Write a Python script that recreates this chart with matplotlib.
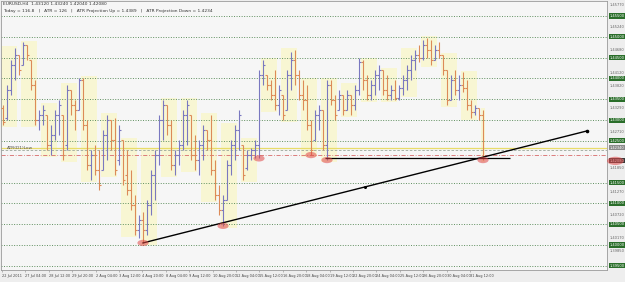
import matplotlib
matplotlib.use("Agg")
import matplotlib.pyplot as plt
import numpy as np
from matplotlib.patches import Ellipse, Rectangle

# H4 bars (open, high, low, close)
opens = [1.4329, 1.4305, 1.4372, 1.4432, 1.4456, 1.4432, 1.4480, 1.4444, 1.4384, 1.4300,
         1.4312, 1.4312, 1.4240, 1.4264, 1.4312, 1.4312, 1.4240, 1.4372, 1.4336, 1.4324,
         1.4396, 1.4288, 1.4192, 1.4216, 1.4180, 1.4180, 1.4264, 1.4300, 1.4252, 1.4204,
         1.4252, 1.4168, 1.4132, 1.4096, 1.4036, 1.4060, 1.4036, 1.4096, 1.4168, 1.4216,
         1.4300, 1.4336, 1.4288, 1.4192, 1.4216, 1.4240, 1.4312, 1.4312, 1.4216, 1.4204,
         1.4240, 1.4276, 1.4252, 1.4180, 1.4120, 1.4084, 1.4108, 1.4192, 1.4240, 1.4276,
         1.4240, 1.4185, 1.4216, 1.4228, 1.4240, 1.4408, 1.4408, 1.4384, 1.4360, 1.4336,
         1.4360, 1.4324, 1.4408, 1.4444, 1.4408, 1.4360, 1.4348, 1.4288, 1.4252, 1.4312,
         1.4324, 1.4240, 1.4384, 1.4348, 1.4324, 1.4360, 1.4324, 1.4360, 1.4336, 1.4372,
         1.4439, 1.4396, 1.4360, 1.4384, 1.4408, 1.4420, 1.4372, 1.4360, 1.4372, 1.4353,
         1.4377, 1.4396, 1.4420, 1.4444, 1.4456, 1.4449, 1.4480, 1.4468, 1.4444, 1.4468,
         1.4456, 1.4420, 1.4348, 1.4396, 1.4372, 1.4384, 1.4377, 1.4336, 1.4319, 1.4329,
         1.4312]
highs = [1.4336, 1.4384, 1.4444, 1.4473, 1.4456, 1.4487, 1.4480, 1.4444, 1.4396, 1.4324,
         1.4336, 1.4312, 1.4288, 1.4324, 1.4348, 1.4312, 1.4384, 1.4372, 1.4348, 1.4401,
         1.4401, 1.4300, 1.4228, 1.4240, 1.4228, 1.4276, 1.4312, 1.4300, 1.4305, 1.4288,
         1.4252, 1.4228, 1.4180, 1.4120, 1.4072, 1.4079, 1.4108, 1.4180, 1.4228, 1.4312,
         1.4348, 1.4336, 1.4300, 1.4228, 1.4252, 1.4324, 1.4348, 1.4312, 1.4264, 1.4252,
         1.4288, 1.4276, 1.4312, 1.4204, 1.4144, 1.4120, 1.4204, 1.4252, 1.4288, 1.4324,
         1.4240, 1.4228, 1.4233, 1.4252, 1.4420, 1.4444, 1.4408, 1.4396, 1.4420, 1.4384,
         1.4360, 1.4420, 1.4463, 1.4468, 1.4420, 1.4396, 1.4384, 1.4300, 1.4324, 1.4336,
         1.4324, 1.4396, 1.4396, 1.4360, 1.4372, 1.4360, 1.4372, 1.4360, 1.4384, 1.4449,
         1.4444, 1.4408, 1.4396, 1.4420, 1.4432, 1.4420, 1.4408, 1.4384, 1.4396, 1.4384,
         1.4408, 1.4432, 1.4456, 1.4468, 1.4480, 1.4492, 1.4497, 1.4492, 1.4480, 1.4487,
         1.4456, 1.4420, 1.4408, 1.4420, 1.4408, 1.4415, 1.4396, 1.4348, 1.4336, 1.4329,
         1.4324]
lows = [1.4288, 1.4300, 1.4360, 1.4396, 1.4408, 1.4432, 1.4444, 1.4372, 1.4288, 1.4276,
        1.4288, 1.4228, 1.4216, 1.4252, 1.4264, 1.4204, 1.4228, 1.4312, 1.4276, 1.4324,
        1.4276, 1.4180, 1.4156, 1.4168, 1.4132, 1.4180, 1.4204, 1.4228, 1.4168, 1.4192,
        1.4144, 1.4120, 1.4084, 1.4024, 1.4017, 1.4005, 1.4024, 1.4072, 1.4108, 1.4192,
        1.4252, 1.4264, 1.4180, 1.4168, 1.4192, 1.4228, 1.4240, 1.4204, 1.4180, 1.4168,
        1.4204, 1.4228, 1.4168, 1.4108, 1.4072, 1.4046, 1.4108, 1.4168, 1.4204, 1.4228,
        1.4156, 1.4180, 1.4204, 1.4208, 1.4208, 1.4384, 1.4372, 1.4348, 1.4324, 1.4312,
        1.4300, 1.4324, 1.4372, 1.4384, 1.4348, 1.4324, 1.4276, 1.4216, 1.4252, 1.4276,
        1.4228, 1.4204, 1.4336, 1.4300, 1.4324, 1.4312, 1.4324, 1.4312, 1.4324, 1.4360,
        1.4372, 1.4348, 1.4348, 1.4360, 1.4372, 1.4360, 1.4348, 1.4348, 1.4348, 1.4348,
        1.4360, 1.4372, 1.4396, 1.4420, 1.4439, 1.4444, 1.4449, 1.4432, 1.4444, 1.4449,
        1.4408, 1.4336, 1.4348, 1.4360, 1.4348, 1.4367, 1.4324, 1.4305, 1.4312, 1.4300,
        1.4204]
closes = [1.4295, 1.4372, 1.4432, 1.4456, 1.4420, 1.4480, 1.4456, 1.4384, 1.4300, 1.4312,
          1.4324, 1.4240, 1.4264, 1.4312, 1.4336, 1.4216, 1.4372, 1.4336, 1.4324, 1.4396,
          1.4288, 1.4192, 1.4216, 1.4180, 1.4144, 1.4264, 1.4300, 1.4252, 1.4180, 1.4276,
          1.4156, 1.4132, 1.4096, 1.4036, 1.4060, 1.4036, 1.4096, 1.4168, 1.4216, 1.4300,
          1.4336, 1.4288, 1.4192, 1.4216, 1.4240, 1.4312, 1.4336, 1.4216, 1.4204, 1.4240,
          1.4276, 1.4252, 1.4180, 1.4120, 1.4084, 1.4108, 1.4192, 1.4240, 1.4276, 1.4312,
          1.4168, 1.4216, 1.4228, 1.4240, 1.4408, 1.4432, 1.4384, 1.4360, 1.4336, 1.4372,
          1.4312, 1.4408, 1.4444, 1.4408, 1.4360, 1.4348, 1.4288, 1.4228, 1.4312, 1.4324,
          1.4240, 1.4384, 1.4348, 1.4312, 1.4360, 1.4324, 1.4360, 1.4336, 1.4372, 1.4439,
          1.4396, 1.4360, 1.4384, 1.4408, 1.4420, 1.4372, 1.4360, 1.4372, 1.4353, 1.4377,
          1.4396, 1.4420, 1.4444, 1.4456, 1.4449, 1.4480, 1.4468, 1.4444, 1.4468, 1.4456,
          1.4420, 1.4348, 1.4396, 1.4372, 1.4384, 1.4377, 1.4336, 1.4319, 1.4329, 1.4312,
          1.4208]

date_labels = ["22 Jul 2011", "27 Jul 04:00", "28 Jul 12:00", "29 Jul 20:00", "2 Aug 04:00",
               "3 Aug 12:00", "4 Aug 20:00", "8 Aug 04:00", "9 Aug 12:00", "10 Aug 20:00",
               "12 Aug 04:00", "15 Aug 12:00", "16 Aug 20:00", "18 Aug 04:00", "19 Aug 12:00",
               "22 Aug 20:00", "24 Aug 04:00", "25 Aug 12:00", "26 Aug 20:00", "30 Aug 04:00",
               "31 Aug 12:00"]

round_levels = [1.3950, 1.4000, 1.4050, 1.4100, 1.4150, 1.4250, 1.4300,
                1.4350, 1.4400, 1.4450, 1.4500, 1.4550]
scale_prices = [1.4577, 1.4524, 1.4468, 1.4412, 1.4382, 1.4329, 1.4271,
                1.4185, 1.4127, 1.4072, 1.4017, 1.3985]

atr_down = 1.4234
prev_close = 1.4228
pivot_line = 1.4215
support_line = 1.4208
support_span = (80.5, 126.75)
trend_pts = [(35, 1.4005), (146, 1.4274)]
touch_bars = [35, 55, 64, 77, 81, 120]

header1 = "EURUSD,H4  1.43120 1.43240 1.42040 1.42080"
header2 = "Today = 116.8   |   ATR = 126   |   ATR Projection Up = 1.4389   |   ATR Projection Down = 1.4234"

BULL = "#7a78c0"
BEAR = "#dc8a58"
GRID = "#5f8f5f"

fig = plt.figure(figsize=(6.25, 2.82), dpi=100, facecolor="#eeeeee")
ax = fig.add_axes([1 / 625, 12 / 282, 606 / 625, 269 / 282])
ax.set_facecolor("#f6f6f6")

n = len(closes)
x = np.arange(n)
o = np.array(opens)
h = np.array(highs)
l = np.array(lows)
c = np.array(closes)

# session boxes
for g in range(0, n, 5):
    sl = slice(g, min(g + 4, n))
    hi, lo = h[sl].max(), l[sl].min()
    ax.add_patch(Rectangle((g - 0.6, lo - 0.0004), min(4, n - g) + 0.2, hi - lo + 0.0008,
                           facecolor="#fbf7bd", edgecolor="none", alpha=0.6, zorder=1))

for lev in round_levels:
    ax.axhline(lev, color=GRID, lw=0.7, ls=(0, (1, 1.6)), zorder=2)
ax.axhline(atr_down, color="#e8dc6a", lw=0.9, zorder=2)
ax.axhline(prev_close, color="#9aa79a", lw=0.6, ls=(0, (3, 2)), zorder=2)
ax.axhline(pivot_line, color="#d86a6a", lw=0.6, ls=(0, (5, 2, 1, 2)), zorder=2)

colors = np.where(c >= o, BULL, BEAR)
ax.vlines(x, l, h, colors=colors, lw=0.8, zorder=3)
ax.hlines(o, x - 0.45, x, colors=colors, lw=0.8, zorder=3)
ax.hlines(c, x, x + 0.45, colors=colors, lw=0.8, zorder=3)

ax.hlines(support_line, support_span[0], support_span[1], colors="black", lw=0.9, zorder=4)
(tx0, ty0), (tx1, ty1) = trend_pts
ax.plot([tx0, tx1], [ty0, ty1], color="black", lw=1.0, zorder=4)
ax.plot([tx1], [ty1], "o", color="black", ms=1.6, zorder=4)
ax.plot([(tx0 + tx1) / 2], [(ty0 + ty1) / 2], "o", color="black", ms=1.2, zorder=4)

for b in touch_bars:
    ax.add_patch(Ellipse((b, l[b]), 2.8, 0.0015, facecolor="#e04848", edgecolor="none",
                         alpha=0.55, zorder=5))

ax.text(1, atr_down - 0.0002, "ATR(D1)Low", fontsize=3.2, color="#555555", va="center", zorder=5)
ax.text(0.003, 0.995, header1, transform=ax.transAxes, fontsize=3.2, color="#333333", va="top")
ax.text(0.003, 0.972, header2, transform=ax.transAxes, fontsize=3.2, color="#333333", va="top")

ax.set_xlim(-0.5, 151)
ax.set_ylim(1.3940, 1.4586)
ax.set_yticks([])
tick_pos = np.arange(len(date_labels)) * 5.85 - 0.25
ax.set_xticks(tick_pos)
ax.set_xticklabels(date_labels, fontsize=2.5, color="#444444", ha="left")
ax.tick_params(axis="x", length=1.5, width=0.4, pad=1.2, color="#888888")
for s in ax.spines.values():
    s.set_color("#9a9a9a")
    s.set_linewidth(0.6)

ytr = ax.get_yaxis_transform()
for p in scale_prices:
    ax.text(1.004, p, f"{p:.5f}", transform=ytr, fontsize=2.6, color="#666666",
            va="center", ha="left", clip_on=False)
for lev in round_levels:
    ax.text(1.004, lev, f"{lev:.5f}", transform=ytr, fontsize=2.6, color="white",
            va="center", ha="left", clip_on=False,
            bbox=dict(boxstyle="square,pad=0.15", facecolor="#2a6e2a", edgecolor="none"))
ax.text(1.004, atr_down, f"{atr_down:.5f}", transform=ytr, fontsize=2.6, color="white",
        va="center", ha="left", clip_on=False,
        bbox=dict(boxstyle="square,pad=0.15", facecolor="#8a8a8a", edgecolor="none"))
ax.text(1.004, support_line - 0.0006, f"{support_line:.5f}", transform=ytr, fontsize=2.6,
        color="white", va="center", ha="left", clip_on=False, zorder=6,
        bbox=dict(boxstyle="square,pad=0.15", facecolor="#3a3a3a", edgecolor="none"))
ax.add_patch(Ellipse((153.1, support_line - 0.0006), 4.2, 0.0020, facecolor="#e04848",
                     edgecolor="none", alpha=0.55, clip_on=False, zorder=7))

fig.savefig("out.png", dpi=100, facecolor=fig.get_facecolor())
